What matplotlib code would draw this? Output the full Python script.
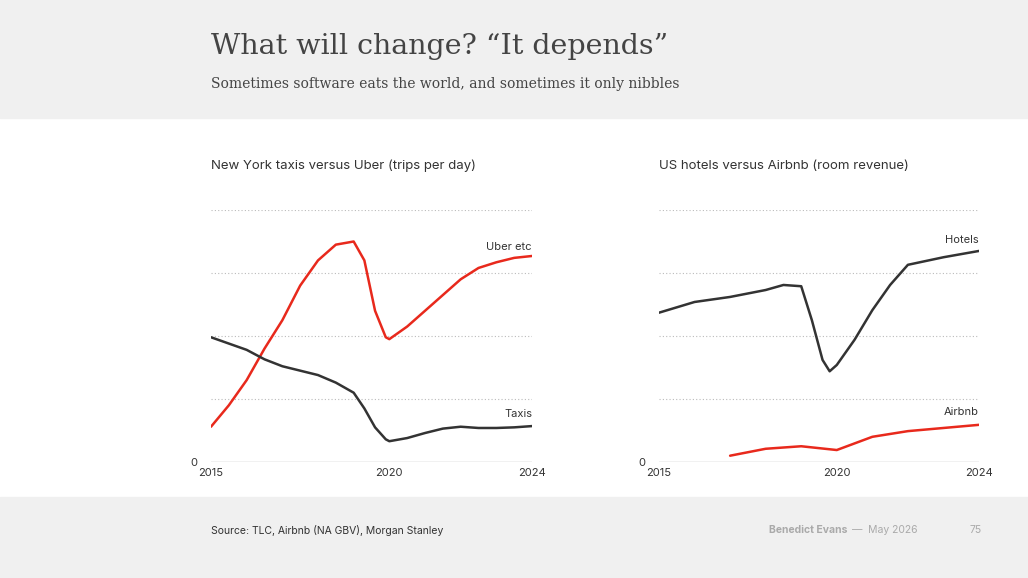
import matplotlib.pyplot as plt
from matplotlib.patches import Rectangle

# left chart: NY taxis vs Uber (trips per day, arbitrary units)
nyc_years = [2015, 2015.5, 2016, 2016.5, 2017, 2017.5, 2018, 2018.5, 2019, 2019.3, 2019.6, 2019.9,
             2020, 2020.5, 2021, 2021.5, 2022, 2022.5, 2023, 2023.5, 2024]
uber = [0.56, 0.9, 1.3, 1.8, 2.25, 2.8, 3.2, 3.45, 3.5, 3.2, 2.4, 1.98,
        1.95, 2.15, 2.4, 2.65, 2.9, 3.08, 3.17, 3.24, 3.27]
taxis = [1.98, 1.88, 1.78, 1.63, 1.52, 1.45, 1.38, 1.26, 1.1, 0.85, 0.55, 0.36,
         0.33, 0.38, 0.46, 0.53, 0.56, 0.54, 0.54, 0.55, 0.57]

# right chart: US hotels vs Airbnb (room revenue, arbitrary units)
hotel_years = [2015, 2016, 2017, 2018, 2018.5, 2019, 2019.3, 2019.6, 2019.8, 2020, 2020.5,
               2021, 2021.5, 2022, 2023, 2024]
hotels = [2.37, 2.54, 2.62, 2.73, 2.81, 2.79, 2.25, 1.62, 1.44, 1.54, 1.94,
          2.41, 2.81, 3.13, 3.25, 3.35]
airbnb_years = [2017, 2018, 2019, 2020, 2021, 2022, 2023, 2024]
airbnb = [0.1, 0.21, 0.25, 0.19, 0.4, 0.49, 0.54, 0.59]

xticks = [2015, 2020, 2024]
RED = '#e8291c'
DARK = '#333333'
SANS = ['Inter', 'DejaVu Sans']

W, H = 1028, 578
fig = plt.figure(figsize=(W / 100, H / 100), dpi=100)
fig.patch.set_facecolor('white')
fig.add_artist(Rectangle((0, 1 - 118 / H), 1, 118 / H, transform=fig.transFigure, color='#f0f0f0', zorder=0))
fig.add_artist(Rectangle((0, 0), 1, 81 / H, transform=fig.transFigure, color='#f0f0f0', zorder=0))

fig.text(211 / W, 1 - 47 / H, 'What will change? \u201cIt depends\u201d', family='DejaVu Serif',
         fontsize=20.5, color='#444444', va='center')
fig.text(211 / W, 1 - 84 / H, 'Sometimes software eats the world, and sometimes it only nibbles',
         family='DejaVu Serif', fontsize=10, color='#444444', va='center')
fig.text(211 / W, 1 - 530 / H, 'Source: TLC, Airbnb (NA GBV), Morgan Stanley', family=SANS,
         fontsize=7.5, color='#333333', va='center')
fig.text(769 / W, 1 - 530 / H, 'Benedict Evans', family=SANS, fontsize=7.5, color='#aaaaaa',
         va='center', fontweight='bold')
fig.text(852 / W, 1 - 530 / H, '\u2014  May 2026', family=SANS, fontsize=7.5, color='#aaaaaa', va='center')
fig.text(982 / W, 1 - 530 / H, '75', family=SANS, fontsize=7.5, color='#aaaaaa', va='center', ha='right')


def make_axes(x0, x1, title, series):
    ax = fig.add_axes([x0 / W, 1 - 462 / H, (x1 - x0) / W, 252 / H])
    ax.set_xlim(2015, 2024)
    ax.set_ylim(0, 4)
    for y in [1, 2, 3, 4]:
        ax.axhline(y, color='#bbbbbb', lw=0.8, ls=(0, (1, 2)), zorder=1)
    ax.axhline(0, color='#bbbbbb', lw=1, zorder=1)
    for s in ax.spines.values():
        s.set_visible(False)
    ax.set_yticks([0])
    ax.set_xticks(xticks)
    ax.tick_params(length=0, labelsize=8, labelcolor='#333333', pad=4)
    for lab in ax.get_xticklabels() + ax.get_yticklabels():
        lab.set_family(SANS)
    ax.tick_params(axis='y', pad=10)
    ax.set_title(title, loc='left', x=0, y=1.13, fontsize=9.5, color='#333333', family=SANS)
    for xs, ys, color, label, dy in series:
        ax.plot(xs, ys, color=color, lw=1.8, solid_joinstyle='round', solid_capstyle='round', zorder=3)
        ax.text(2024, ys[-1] + dy, label, ha='right', va='bottom', fontsize=8, color='#333333', family=SANS)
    ax.set_facecolor('none')
    return ax


make_axes(211, 532, 'New York taxis versus Uber (trips per day)',
          [(nyc_years, uber, RED, 'Uber etc', 0.06), (nyc_years, taxis, DARK, 'Taxis', 0.12)])
make_axes(659, 979, 'US hotels versus Airbnb (room revenue)',
          [(hotel_years, hotels, DARK, 'Hotels', 0.1), (airbnb_years, airbnb, RED, 'Airbnb', 0.12)])

fig.savefig('out.png', dpi=100)
